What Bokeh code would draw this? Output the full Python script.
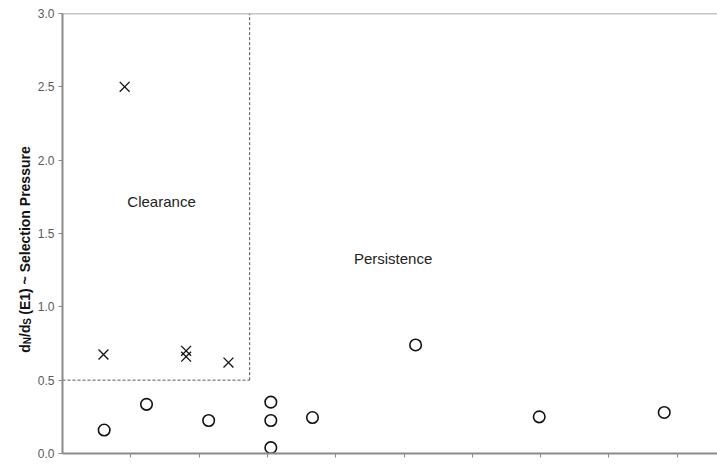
import math
from bokeh.plotting import figure
from bokeh.layouts import row
from bokeh.models import (Range1d, FixedTicker, NumeralTickFormatter, Label, Span,
                          CustomLabelingPolicy)
from bokeh.core.properties import value
from bokeh.embed import file_html
from bokeh.resources import INLINE

# ---- data ----
clearance_x = [0.91, 0.60, 1.81, 1.81, 2.43]
clearance_y = [2.50, 0.675, 0.70, 0.66, 0.62]
persistence_x = [0.61, 1.23, 2.14, 3.05, 3.05, 3.05, 3.66, 5.17, 6.98, 8.81]
persistence_y = [0.16, 0.335, 0.225, 0.35, 0.225, 0.04, 0.245, 0.74, 0.25, 0.28]
y_ticks = [0.0, 0.5, 1.0, 1.5, 2.0, 2.5, 3.0]
x_ticks = [1, 2, 3, 4, 5, 6, 7, 8, 9]
clearance_box_x = 2.74
clearance_box_y = 0.5
region_labels = ["Clearance", "Persistence"]
region_label_x = [1.45, 4.84]
region_label_y = [1.72, 1.33]
title_pieces = ["d", "N", "/d", "S", "(E1) ~ Selection Pressure"]

X0, X1 = 0.0, 9.59
Y0, Y1 = 0.0, 3.0
W, H = 717, 467
TW = 34            # width of the strip holding the rotated y title
LEFT, TOP, BOTTOM = 62, 13, 14

# ---- main plot ----
p = figure(width=W - TW, height=H, output_backend="svg", toolbar_location=None,
           x_range=Range1d(X0, X1), y_range=Range1d(Y0, Y1),
           min_border_left=LEFT - TW, min_border_right=0, min_border_top=TOP,
           min_border_bottom=BOTTOM)
p.outline_line_color = None
p.xgrid.visible = False
p.ygrid.visible = False
p.background_fill_color = "white"
p.border_fill_color = "white"

axis_col = "#8a8a8a"
for ax in (p.xaxis[0], p.yaxis[0]):
    ax.axis_line_color = axis_col
    ax.axis_line_width = 2
    ax.major_tick_line_color = axis_col
    ax.major_tick_line_width = 1
    ax.minor_tick_line_color = None
    ax.major_tick_in = 0
    ax.major_tick_out = 4

p.xaxis.ticker = FixedTicker(ticks=x_ticks)
p.xaxis.major_label_text_font_size = "1px"
p.xaxis.major_label_standoff = 0
p.xaxis.major_label_policy = CustomLabelingPolicy(code="return new Set()")
p.yaxis.ticker = FixedTicker(ticks=y_ticks)
p.yaxis.formatter = NumeralTickFormatter(format="0.0")
p.yaxis.major_label_text_font = "Liberation Sans"
p.yaxis.major_label_text_font_size = "12px"
p.yaxis.major_label_text_color = "#5a5a5a"
p.yaxis.major_label_standoff = 4

# top border line
p.add_layout(Span(location=Y1, dimension="width", line_color="#8a8a8a", line_width=1.5))
# dashed clearance box
p.segment(x0=[X0, clearance_box_x], y0=[clearance_box_y, clearance_box_y],
          x1=[clearance_box_x, clearance_box_x], y1=[clearance_box_y, Y1],
          line_color="#555555", line_width=1, line_dash="3 2")

p.scatter(clearance_x, clearance_y, marker="x", size=14, line_color="#111111", line_width=1.3)
p.scatter(persistence_x, persistence_y, marker="circle", size=11.5, fill_color="white",
          line_color="#111111", line_width=1.6)

for t_, xx, yy in zip(region_labels, region_label_x, region_label_y):
    p.add_layout(Label(x=xx, y=yy, text=t_, text_align="center", text_baseline="middle",
                       text_font="Liberation Sans", text_font_size="15px", text_color="#222222"))

# ---- rotated y-axis title (with subscripts) in a narrow strip ----
t = figure(width=TW, height=H, output_backend="svg", toolbar_location=None,
           x_range=Range1d(0, TW), y_range=Range1d(0, H),
           min_border_left=0, min_border_right=0, min_border_top=0, min_border_bottom=0)
t.axis.visible = False
t.grid.visible = False
t.outline_line_color = None
t.background_fill_color = "white"
t.border_fill_color = "white"

cw = {"d": .611, "N": .722, "/": .278, "S": .667, " ": .278, "(": .333, "E": .667, "1": .556,
      ")": .333, "~": .584, "e": .556, "l": .278, "c": .556, "t": .333, "i": .278, "o": .611,
      "n": .611, "P": .667, "r": .389, "s": .556, "u": .611}
sizes = [14, 10, 14, 10, 14]
offsets = [0, 3, 0, 3, 0]
gaps = [0, 0.5, 0.5, 0.5, 0.278 * 14]   # small kerning gaps; space before "(E1)"
base_x = 24
cur = H - 360.0
for txt, fs, off, gap in zip(title_pieces, sizes, offsets, gaps):
    cur += gap
    t.text(x=[base_x + off], y=[cur], text=[txt], angle=math.pi / 2,
           text_align="left", text_baseline="alphabetic",
           text_font=value("Liberation Sans"), text_font_style="bold",
           text_font_size=value(f"{fs}px"), text_color="#111111")
    cur += sum(cw.get(c, 0.55) for c in txt) * fs

layout = row(t, p, spacing=0)
open("out.html", "w").write(file_html(layout, INLINE))
